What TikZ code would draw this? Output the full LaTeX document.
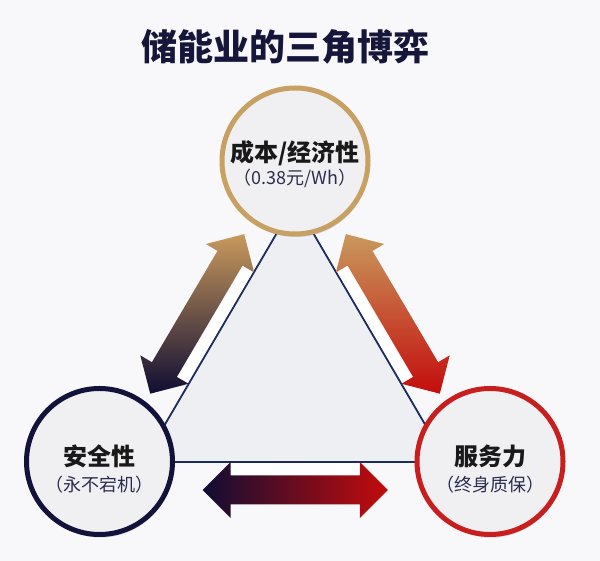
\documentclass[tikz,border=0pt]{standalone}
\usepackage{fontspec}
\setmainfont{Noto Sans CJK SC}
\usepackage{tikz}
\usetikzlibrary{shadows,calc}

\definecolor{pagebg}{HTML}{F8F8FB}
\definecolor{trifill}{HTML}{EEEFF3}
\definecolor{triline}{HTML}{1C2C5C}
\definecolor{discfill}{HTML}{F0F0F3}
\definecolor{goldring}{HTML}{C9A064}
\definecolor{navyring}{HTML}{12123A}
\definecolor{redring}{HTML}{C81E1E}
\definecolor{titlenavy}{HTML}{16163A}
\definecolor{subnavy}{HTML}{2B2D50}
\definecolor{tan}{HTML}{C9995C}
\definecolor{deepnavy}{HTML}{0F0D33}
\definecolor{deepred}{HTML}{C40C0C}

\tikzset{
  factor/.style={circle, minimum size=146pt, line width=5pt, fill=discfill,
    drop shadow={shadow xshift=1pt, shadow yshift=-3pt, opacity=0.25, fill=black!60}},
  maintext/.style={font=\fontsize{24}{26}\selectfont\bfseries, text=black!90},
  subtext/.style={font=\fontsize{18}{20}\selectfont, text=subnavy},
}

% double arrow: centre, angle, side of the white pad (1 or -1), shading
\newcommand{\tradeoff}[4]{%
  \begin{scope}[shift={#1}, rotate=#2]
    \fill[white] (-64.6,0) rectangle (64.6,#3*26.5);
    \shade[#4]
      (-92.6,0) -- (-64.6,28) -- (-64.6,14.5) -- (64.6,14.5) -- (64.6,28)
      -- (92.6,0) -- (64.6,-28) -- (64.6,-14.5) -- (-64.6,-14.5) -- (-64.6,-28) -- cycle;
  \end{scope}}

\begin{document}
\begin{tikzpicture}[x=1pt,y=1pt]
  \useasboundingbox[fill=pagebg] (0,0) rectangle (600,561);

  \draw (285,514) node (title) {\fontsize{36}{38}\selectfont\bfseries\color{titlenavy}储能业的三角博弈};

  % triangle behind everything
  \coordinate (apex) at (295,359);
  \coordinate (lcorner) at (143,99);
  \coordinate (rcorner) at (447,99);
  \filldraw[fill=trifill, draw=triline, line width=1.8pt] (apex) -- (lcorner) -- (rcorner) -- cycle;

  % arrows between the factors
  \tradeoff{(197.2,247.1)}{59.5}{-1}{top color=tan, bottom color=deepnavy}
  \tradeoff{(392.8,247.1)}{120.5}{1}{top color=tan, bottom color=deepred}
  \tradeoff{(295.3,71)}{0}{1}{left color=deepnavy, right color=deepred}

  % the three factors
  \draw (295,400) node[factor, draw=goldring] (cost) {};
  \draw (99.5,99.5) node[factor, draw=navyring] (safety) {};
  \draw (490,99.5) node[factor, draw=redring] (service) {};

  \draw ([yshift=8pt]cost.center) node[maintext] (costname) {成本/经济性};
  \draw ([yshift=-17pt]cost.center) node[subtext] (costnote) {（0.38元/Wh）};
  \draw ([yshift=5pt]safety.center) node[maintext] (safetyname) {安全性};
  \draw ([yshift=-23pt]safety.center) node[subtext] (safetynote) {（永不宕机）};
  \draw ([yshift=5pt]service.center) node[maintext] (servicename) {服务力};
  \draw ([yshift=-23pt]service.center) node[subtext] (servicenote) {（终身质保）};
\end{tikzpicture}
\end{document}
